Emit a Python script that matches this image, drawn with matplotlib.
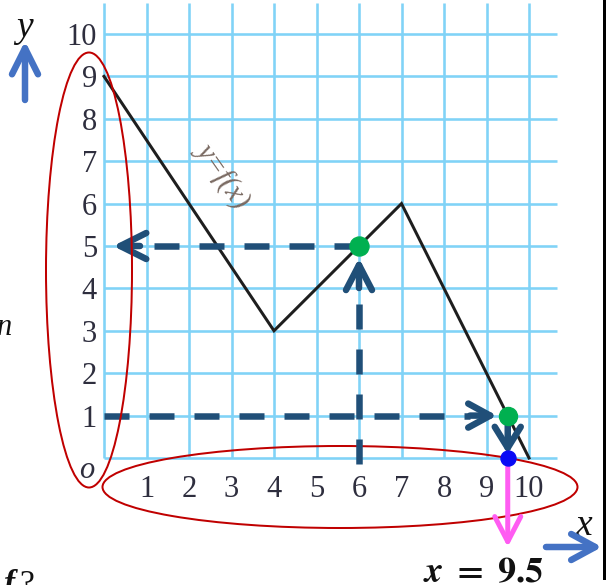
import matplotlib
matplotlib.use("Agg")
import matplotlib.pyplot as plt
from matplotlib.patches import FancyArrowPatch, ArrowStyle, Ellipse

plt.rcParams['lines.scale_dashes'] = False
plt.rcParams['mathtext.fontset'] = 'stix'

# ---------------- data ----------------
x_ticks = [1, 2, 3, 4, 5, 6, 7, 8, 9, 10]
y_ticks = [1, 2, 3, 4, 5, 6, 7, 8, 9, 10]
curve_x = [0, 4, 7, 10]
curve_y = [9, 3, 6, 0]
point_a = (6, 5)      # f(6) = 5
point_b = (9.5, 1)    # f(x) = 1
root_b = (9.5, 0)     # x = 9.5
grid_xmax = 10.65
grid_ymax = 10.72

# ---------------- layout helpers (pixel -> data) ----------------
X0, SX, Y0, SY = 104.0, 42.5, 458.0, 42.4
W, H = 608, 585
def px(x):
    return (x - X0) / SX
def py(y):
    return (Y0 - y) / SY
PT = 0.72  # points per pixel at dpi 100

fig = plt.figure(figsize=(W / 100, H / 100), dpi=100)
ax = fig.add_axes([0, 0, 1, 1])
ax.set_xlim(px(0), px(W))
ax.set_ylim(py(H), py(0))
ax.axis('off')

grid_c = '#80d3f7'
for xv in [0] + x_ticks:
    ax.plot([xv, xv], [0, grid_ymax], color=grid_c, lw=2.6 * PT, zorder=1, solid_capstyle='butt')
for yv in [0] + y_ticks:
    ax.plot([0, grid_xmax], [yv, yv], color=grid_c, lw=2.6 * PT, zorder=1, solid_capstyle='butt')

# curve
ax.plot(curve_x, curve_y, color='#1e1e1e', lw=3 * PT, zorder=3, solid_joinstyle='miter')

# tick labels
tick_c = '#2e2e3e'
serif = ['Liberation Serif', 'DejaVu Serif']
for v in y_ticks:
    ax.text(px(97), v - 11 / SY, str(v), ha='right', va='baseline', fontsize=22,
            family=serif, color=tick_c, zorder=4)
for v in x_ticks:
    ax.text(v, py(497), str(v), ha='center', va='baseline', fontsize=22,
            family=serif, color=tick_c, zorder=4)
ax.text(px(87), py(478), 'o', ha='center', va='baseline', fontsize=22, style='italic',
        family=serif, color=tick_c, zorder=4)

# curve label
ax.text(px(223), py(175), 'y=f(x)', rotation=-55, rotation_mode='anchor', ha='center', va='center',
        fontsize=21, style='italic', family=serif, color='#7a6a62', zorder=4)

navy = '#204f78'
dash = (0, (25 * PT, 20 * PT))
dlw = 6.5 * PT

def arrow(p0, p1, color, lw, hl, hw, z=6):
    a = FancyArrowPatch(p0, p1, arrowstyle=ArrowStyle('->', head_length=hl, head_width=hw),
                        mutation_scale=1, lw=lw, color=color, capstyle='round',
                        joinstyle='round', shrinkA=0, shrinkB=0, zorder=z)
    ax.add_patch(a)

# dashed: f(6) = 5
ax.plot([point_a[0], px(150)], [point_a[1], point_a[1]], color=navy, lw=dlw, ls=dash, zorder=5)
arrow((px(140), point_a[1]), (px(113), point_a[1]), navy, dlw, 26 * PT, 13 * PT)
ax.plot([point_a[0], point_a[0]], [py(464), py(300)], color=navy, lw=dlw, ls=dash, zorder=5)
arrow((point_a[0], py(288)), (point_a[0], py(258)), navy, dlw, 25 * PT, 13 * PT)

# dashed: f(x) = 1
ax.plot([0, px(470)], [point_b[1], point_b[1]], color=navy, lw=dlw, ls=dash, zorder=5)
arrow((px(470), point_b[1]), (px(497), point_b[1]), navy, dlw, 22 * PT, 12 * PT)
arrow((point_b[0], py(425)), (point_b[0], py(454)), navy, dlw, 21 * PT, 13 * PT)

# magenta arrow to x-axis answer
arrow((root_b[0], root_b[1]), (root_b[0], py(547)), '#ff5cf2', 5 * PT, 25 * PT, 13 * PT, z=5)

# points
ax.plot(*point_a, 'o', color='#00b050', ms=19 * PT, zorder=7)
ax.plot(*point_b, 'o', color='#00b050', ms=18 * PT, zorder=7)
ax.plot(*root_b, 'o', color='#0a0af5', ms=15 * PT, zorder=7)

# red ellipses
red = '#c00000'
ax.add_patch(Ellipse((px(89), py(270)), 86 / SX, 435 / SY, fill=False, ec=red, lw=2 * PT, zorder=6))
ax.add_patch(Ellipse((px(340), py(487)), 475 / SX, 82 / SY, fill=False, ec=red, lw=2 * PT, zorder=4))

# axis direction arrows
bl = '#4472c4'
arrow((px(25), py(100)), (px(25), py(41)), bl, 6.5 * PT, 26 * PT, 13 * PT)
arrow((px(546), py(547)), (px(602), py(547)), bl, 6.5 * PT, 24 * PT, 13 * PT)
ax.text(px(24), py(37), 'y', ha='center', va='baseline', fontsize=27, style='italic',
        family=serif, color='#111111')
ax.text(px(584), py(535), 'x', ha='center', va='baseline', fontsize=27, style='italic',
        family=serif, color='#111111')

# answer text and side texts
ax.text(px(483), py(582), r'$\mathbfit{x}\ \mathbf{=}\ \mathbf{9.5}$', ha='center', va='baseline',
        fontsize=26, color='#111111')
ax.text(px(5), py(335), 'n', ha='center', va='baseline', fontsize=22, style='italic',
        family=serif, color='#111111')
ax.text(px(4), py(593), 'f', ha='left', va='baseline', fontsize=24, style='italic', weight='bold',
        family=serif, color='#111111')
ax.text(px(19), py(593), '?', ha='left', va='baseline', fontsize=24,
        family=serif, color='#111111')

# right border line
ax.plot([px(604), px(604)], [py(0), py(578)], color='black', lw=3 * PT, zorder=8)

fig.savefig('out.png', dpi=100)
